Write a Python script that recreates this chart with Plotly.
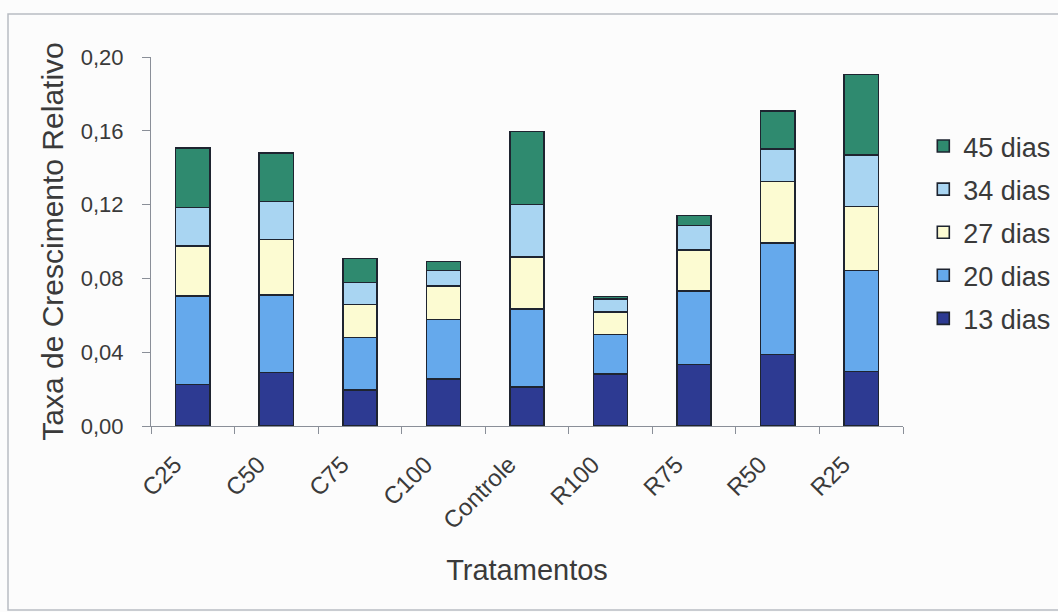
import plotly.graph_objects as go

# Tratamentos e taxa de crescimento relativo por período de avaliação
tratamentos = ["C25", "C50", "C75", "C100", "Controle", "R100", "R75", "R50", "R25"]

dias_13 = [0.0225, 0.0290, 0.0195, 0.0254, 0.0213, 0.0283, 0.0333, 0.0387, 0.0296]
dias_20 = [0.0481, 0.0420, 0.0285, 0.0324, 0.0421, 0.0214, 0.0399, 0.0606, 0.0547]
dias_27 = [0.0271, 0.0301, 0.0178, 0.0181, 0.0281, 0.0121, 0.0223, 0.0333, 0.0346]
dias_34 = [0.0207, 0.0205, 0.0120, 0.0084, 0.0285, 0.0070, 0.0131, 0.0175, 0.0279]
dias_45 = [0.0322, 0.0265, 0.0130, 0.0049, 0.0396, 0.0015, 0.0054, 0.0207, 0.0438]

series = [
    ("13 dias", dias_13, "#2d3a92"),
    ("20 dias", dias_20, "#65a9ec"),
    ("27 dias", dias_27, "#fcfbd2"),
    ("34 dias", dias_34, "#a9d5f2"),
    ("45 dias", dias_45, "#2f8a6f"),
]

fig = go.Figure()
for i, (nome, valores, cor) in enumerate(series):
    fig.add_trace(go.Bar(
        name=nome, x=tratamentos, y=valores,
        marker=dict(color=cor, line=dict(color="#1e2430", width=1.6)),
        legendgroup=nome,
        legendrank=len(series) - i,  # 45 dias no topo da legenda
    ))

txt = "#3a3a3a"
fig.update_layout(
    barmode="stack",
    bargap=0.59,
    width=1058, height=612,
    margin=dict(l=151, r=155, t=57, b=186, autoexpand=False),
    paper_bgcolor="#fcfcfc",
    plot_bgcolor="#fcfcfc",
    separators=",.",
    font=dict(family="Liberation Sans, Arial, sans-serif", color=txt, size=22),
    legend=dict(
        x=1.027, y=0.824, xanchor="left", yanchor="top",
        traceorder="grouped", tracegroupgap=5,
        font=dict(size=27, color=txt),
        bgcolor="rgba(0,0,0,0)",
    ),
    xaxis=dict(
        title=dict(text="Tratamentos", font=dict(size=29, color=txt), standoff=26),
        tickangle=-45, tickfont=dict(size=24, color=txt),
        ticklabelstandoff=14, ticklabelshift=-18,
        showline=True, linecolor="#8a8f98", linewidth=1,
        ticks="outside", ticklen=7, tickcolor="#8a8f98", tickson="boundaries",
        showgrid=False,
    ),
    yaxis=dict(
        title=dict(text="Taxa de Crescimento Relativo", font=dict(size=30, color=txt), standoff=8),
        range=[0, 0.20], dtick=0.04, tickformat=".2f",
        tickfont=dict(size=22, color=txt), ticklabelstandoff=14,
        showline=True, linecolor="#8a8f98", linewidth=1,
        ticks="outside", ticklen=8, tickcolor="#8a8f98",
        showgrid=False, zeroline=False,
    ),
    shapes=[dict(
        type="rect", xref="paper", yref="paper",
        x0=(8 - 151) / 752, x1=(1065 - 151) / 752,
        y0=(426 - 610) / 369, y1=(426 - 14) / 369,
        line=dict(color="#b8bcc2", width=1.5), fillcolor="rgba(0,0,0,0)",
        layer="below",
    )],
)

fig.write_html("out.html")
